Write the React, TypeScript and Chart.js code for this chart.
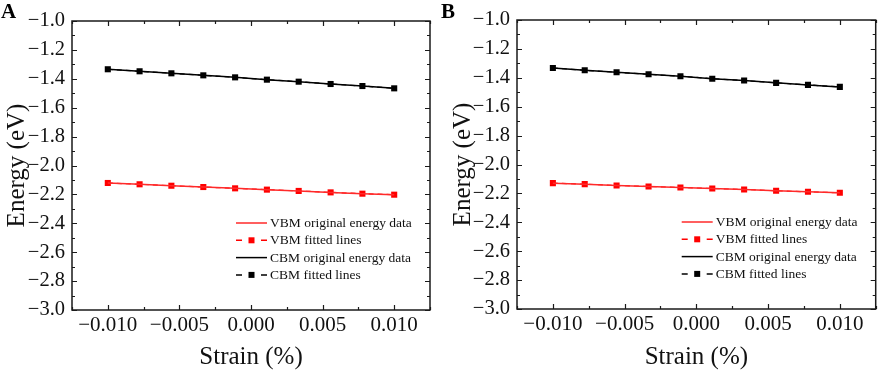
import React, { useEffect, useRef } from 'react';
import { Chart, registerables } from 'chart.js';
Chart.register(...registerables);

// ---- data ----
const strain = [-0.01, -0.00778, -0.00556, -0.00333, -0.00111, 0.00111, 0.00333, 0.00556, 0.00778, 0.01];
const vbmA = [-2.121, -2.130, -2.140, -2.149, -2.158, -2.167, -2.176, -2.186, -2.195, -2.202];
const cbmA = [-1.334, -1.348, -1.362, -1.376, -1.390, -1.406, -1.420, -1.436, -1.450, -1.466];
const vbmB = [-2.129, -2.136, -2.145, -2.152, -2.159, -2.166, -2.173, -2.182, -2.189, -2.196];
const cbmB = [-1.332, -1.348, -1.362, -1.376, -1.389, -1.406, -1.419, -1.435, -1.449, -1.463];

const xMajorTicks = [-0.01, -0.005, 0, 0.005, 0.01];
const xMinorTicks = [-0.0125, -0.0075, -0.0025, 0.0025, 0.0075, 0.0125];
const yMajorTicks = [-3.0, -2.8, -2.6, -2.4, -2.2, -2.0, -1.8, -1.6, -1.4, -1.2, -1.0];
const yMinorTicks = [-2.9, -2.7, -2.5, -2.3, -2.1, -1.9, -1.7, -1.5, -1.3, -1.1];

const legendLabels = ['VBM original energy data', 'VBM fitted lines', 'CBM original energy data', 'CBM fitted lines'];
const xTitle = 'Strain (%)';
const yTitle = 'Energy (eV)';

const SERIF = "'Liberation Serif', 'Times New Roman', serif";
const RED = '#ff0000';
const RED_LINE = '#ff2a2a';
const BLACK = '#000000';
const TEXT = '#111111';

const fmt = (v: number, d: number) => v.toFixed(d).replace('-', '\u2212');

type Box = { left: number; right: number; top: number; bottom: number };

function Panel(props: { letter: string; vbm: number[]; cbm: number[]; box: Box; yTitlePad: number; offsetX: number }) {
  const ref = useRef<HTMLCanvasElement | null>(null);
  useEffect(() => {
    const canvas = ref.current;
    if (!canvas) return;
    const { letter, vbm, cbm, box, yTitlePad } = props;
    const W = 440, H = 374;
    const pts = (arr: number[]) => strain.map((x, i) => ({ x, y: arr[i] }));

    const decor = {
      id: 'decor' + letter,
      afterDatasetsDraw(chart: any) {
        const ctx = chart.ctx;
        const { left, right, top, bottom } = chart.chartArea;
        const xs = chart.scales.x, ys = chart.scales.y;
        ctx.save();
        ctx.strokeStyle = '#1a1a1a';
        ctx.lineWidth = 1.5;
        ctx.strokeRect(left, top, right - left, bottom - top);
        ctx.lineWidth = 1.2;
        const tickX = (vals: number[], len: number) => {
          vals.forEach(v => {
            const px = Math.round(xs.getPixelForValue(v)) + 0.5;
            ctx.beginPath();
            ctx.moveTo(px, bottom); ctx.lineTo(px, bottom - len);
            ctx.moveTo(px, top); ctx.lineTo(px, top + len);
            ctx.stroke();
          });
        };
        const tickY = (vals: number[], len: number) => {
          vals.forEach(v => {
            const py = Math.round(ys.getPixelForValue(v)) + 0.5;
            ctx.beginPath();
            ctx.moveTo(left, py); ctx.lineTo(left + len, py);
            ctx.moveTo(right, py); ctx.lineTo(right - len, py);
            ctx.stroke();
          });
        };
        tickX(xMajorTicks, 5); tickX(xMinorTicks, 3);
        tickY(yMajorTicks, 5); tickY(yMinorTicks, 3);

        // legend
        const textX = right - 160;
        const x0 = right - 194, x1 = right - 163;
        const colors = [RED_LINE, RED, BLACK, BLACK];
        ctx.font = `13.5px ${SERIF}`;
        ctx.textBaseline = 'middle';
        ctx.textAlign = 'left';
        legendLabels.forEach((lab, i) => {
          const y = top + 202 + i * 17.3;
          ctx.strokeStyle = colors[i];
          ctx.fillStyle = colors[i];
          ctx.lineWidth = 1.5;
          if (i % 2 === 0) {
            ctx.beginPath(); ctx.moveTo(x0, y); ctx.lineTo(x1, y); ctx.stroke();
          } else {
            const cx = (x0 + x1) / 2;
            ctx.beginPath();
            ctx.moveTo(x0, y); ctx.lineTo(x0 + 6, y);
            ctx.moveTo(x1 - 6, y); ctx.lineTo(x1, y);
            ctx.stroke();
            ctx.fillRect(cx - 3, y - 3, 6, 6);
          }
          ctx.fillStyle = TEXT;
          ctx.fillText(lab, textX, y + 0.5);
        });

        // panel letter
        ctx.fillStyle = '#000';
        ctx.font = `bold 21px ${SERIF}`;
        ctx.textBaseline = 'alphabetic';
        ctx.textAlign = 'left';
        ctx.fillText(letter, 1, 18);
        ctx.restore();
      },
    };

    const chart = new Chart(canvas, {
      type: 'line',
      data: {
        datasets: [
          { label: legendLabels[0], data: pts(vbm), borderColor: RED_LINE, borderWidth: 1.5, pointRadius: 0, fill: false },
          { label: legendLabels[1], data: pts(vbm), borderColor: RED, backgroundColor: RED, borderWidth: 1.2, borderDash: [5, 4], pointStyle: 'rect', pointRadius: 4.3, pointBorderWidth: 0, fill: false },
          { label: legendLabels[2], data: pts(cbm), borderColor: BLACK, borderWidth: 1.5, pointRadius: 0, fill: false },
          { label: legendLabels[3], data: pts(cbm), borderColor: BLACK, backgroundColor: BLACK, borderWidth: 1.2, borderDash: [5, 4], pointStyle: 'rect', pointRadius: 4.3, pointBorderWidth: 0, fill: false },
        ],
      },
      options: {
        responsive: false,
        animation: false,
        devicePixelRatio: 1,
        layout: { padding: { left: 0, right: W - box.right, top: box.top, bottom: 0 } },
        plugins: { legend: { display: false }, tooltip: { enabled: false } },
        scales: {
          x: {
            type: 'linear',
            min: -0.0125,
            max: 0.0125,
            grid: { display: false, drawTicks: false },
            border: { display: false },
            afterBuildTicks: (s: any) => { s.ticks = xMajorTicks.map(v => ({ value: v })); },
            afterFit: (s: any) => { s.height = H - box.bottom; },
            ticks: {
              padding: 3,
              maxRotation: 0,
              color: TEXT,
              font: { family: SERIF, size: 21 },
              callback: (v: any) => fmt(Number(v), 3),
            },
            title: { display: true, text: xTitle, color: TEXT, font: { family: SERIF, size: 25 }, padding: { top: 0, bottom: 2 } },
          },
          y: {
            type: 'linear',
            min: -3,
            max: -1,
            grid: { display: false, drawTicks: false },
            border: { display: false },
            afterBuildTicks: (s: any) => { s.ticks = yMajorTicks.map(v => ({ value: v })); },
            afterFit: (s: any) => { s.width = box.left; },
            ticks: {
              padding: 7,
              color: TEXT,
              font: { family: SERIF, size: 20.5 },
              callback: (v: any) => fmt(Number(v), 1),
            },
            title: { display: true, text: yTitle, color: TEXT, font: { family: SERIF, size: 25 }, padding: { top: yTitlePad, bottom: 0 } },
          },
        },
      },
      plugins: [decor],
    } as any);
    return () => chart.destroy();
  }, []);
  return (
    <canvas
      ref={ref}
      width={440}
      height={374}
      style={{ position: 'absolute', left: props.offsetX, top: 0, width: 440, height: 374 }}
    />
  );
}

export default function App() {
  return (
    <div style={{ position: 'absolute', left: 0, top: 0, width: 880, height: 374, background: '#fff', overflow: 'hidden' }}>
      <Panel letter="A" vbm={vbmA} cbm={cbmA} box={{ left: 72, right: 430, top: 21, bottom: 310 }} yTitlePad={2} offsetX={0} />
      <Panel letter="B" vbm={vbmB} cbm={cbmB} box={{ left: 77, right: 436, top: 20, bottom: 309 }} yTitlePad={8} offsetX={440} />
    </div>
  );
}
